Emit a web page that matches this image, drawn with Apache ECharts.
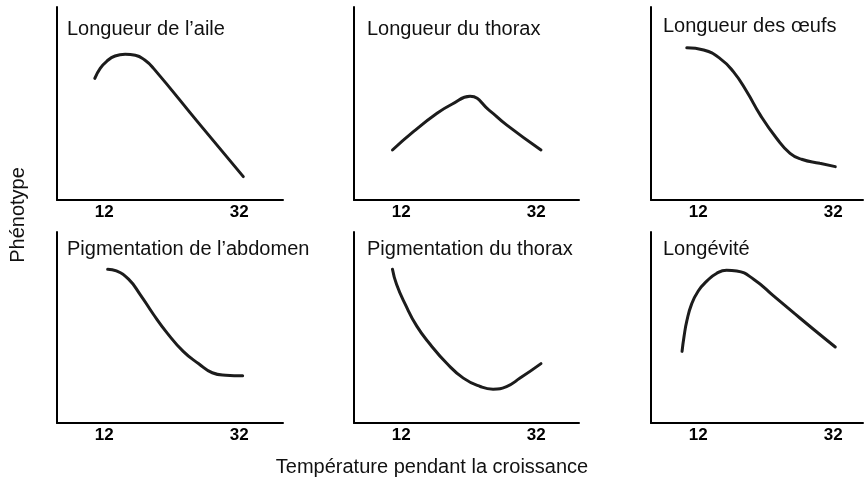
<!DOCTYPE html>
<html>
<head>
<meta charset="utf-8">
<script src="https://cdn.jsdelivr.net/npm/echarts@6/dist/echarts.min.js"></script>
<style>
  html, body { margin: 0; padding: 0; background: #fff; }
  #chart { width: 864px; height: 490px; }
</style>
</head>
<body>
<div id="chart"></div>
<script>
// panel titles (reading order)
var panelTitles = [
  'Longueur de l\u2019aile', 'Longueur du thorax', 'Longueur des \u0153ufs',
  'Pigmentation de l\u2019abdomen', 'Pigmentation du thorax', 'Long\u00e9vit\u00e9'
];
var tickValues = [12, 32];
var xTitle = 'Temp\u00e9rature pendant la croissance';
var yTitle = 'Ph\u00e9notype';

// curves: [temperature, phenotype (0-100 relative)]
var aile = [[10.6, 63.0], [11.4, 68.2], [12.4, 72.0], [13.6, 74.6], [15.1, 75.5], [16.6, 75.0],
  [18.0, 72.5], [19.3, 68.2], [25.9, 40.2], [32.6, 12.1]];
var thoraxLong = [[10.7, 25.9], [13.8, 35.4], [17.3, 44.9], [19.5, 49.6], [22.2, 53.7],
  [25.0, 46.6], [27.6, 38.9], [32.7, 25.9]];
var oeufs = [[10.3, 78.9], [12.8, 77.7], [15.2, 73.4], [17.2, 66.5], [19.2, 56.1], [21.2, 44.0],
  [23.6, 32.0], [25.6, 24.2], [27.3, 21.1], [30.0, 19.0], [32.3, 17.3]];
var abdomen = [[12.5, 80.5], [13.8, 79.6], [15.6, 75.3], [17.3, 67.4], [19.3, 56.8], [21.3, 47.2],
  [23.7, 37.5], [26.0, 31.0], [28.0, 26.3], [30.0, 25.0], [32.5, 24.7]];
var thoraxPigm = [[10.7, 80.5], [11.3, 72.6], [12.6, 62.1], [14.3, 50.7], [16.3, 41.1], [18.7, 31.4],
  [21.2, 23.5], [23.7, 19.1], [25.6, 17.7], [27.6, 19.1], [29.6, 23.5], [32.7, 31.1]];
var longevite = [[9.6, 37.5], [9.9, 45.4], [10.3, 53.3], [11.0, 62.1], [12.0, 69.1], [13.3, 74.4],
  [14.7, 78.3], [16.2, 80.0], [17.7, 79.6], [20.2, 75.3], [23.2, 66.4], [26.2, 57.5], [29.2, 48.7], [32.3, 39.8]];
var curves = [aile, thoraxLong, oeufs, abdomen, thoraxPigm, longevite];

var chart = echarts.init(document.getElementById('chart'));

var colLeft = [57, 354, 651];
var colWidth = [226, 225, 212];
var rowTop = [7, 232];
var rowHeight = [193, 191];
var pxPerUnit = 6.75;
var xMin = 5;
var titleTop = [[19, 19, 16], [239, 239, 239]];
var titleLeft = [67, 367, 663];
var fontFam = 'Liberation Sans, Arial, sans-serif';

var grids = [], xAxes = [], yAxes = [], series = [], titles = [];
for (var i = 0; i < 6; i++) {
  var r = Math.floor(i / 3), c = i % 3;
  grids.push({ left: colLeft[c], top: rowTop[r], width: colWidth[c], height: rowHeight[r] });
  xAxes.push({
    gridIndex: i,
    type: 'value',
    min: xMin,
    max: xMin + colWidth[c] / pxPerUnit,
    axisLine: { show: true, onZero: false, lineStyle: { color: '#000', width: 2 } },
    axisTick: { show: false },
    splitLine: { show: false },
    axisLabel: {
      customValues: tickValues,
      color: '#000',
      fontWeight: 'bold',
      fontSize: 17,
      fontFamily: fontFam,
      margin: 4
    }
  });
  yAxes.push({
    gridIndex: i,
    type: 'value',
    min: 0,
    max: 100,
    axisLine: { show: true, onZero: false, lineStyle: { color: '#000', width: 2 } },
    axisTick: { show: false },
    splitLine: { show: false },
    axisLabel: { show: false }
  });
  series.push({
    type: 'line',
    xAxisIndex: i,
    yAxisIndex: i,
    data: curves[i],
    smooth: true,
    showSymbol: false,
    silent: true,
    lineStyle: { color: '#1c1c1c', width: 3, cap: 'round' }
  });
  titles.push({
    text: panelTitles[i],
    left: titleLeft[c],
    top: titleTop[r][c],
    padding: 0,
    textStyle: { color: '#111', fontSize: 20, fontWeight: 'normal', fontFamily: fontFam }
  });
}

var option = {
  backgroundColor: '#fff',
  animation: false,
  title: titles,
  grid: grids,
  xAxis: xAxes,
  yAxis: yAxes,
  series: series,
  graphic: [
    {
      type: 'text',
      x: 18, y: 215,
      rotation: Math.PI / 2,
      style: { text: yTitle, fontSize: 20, fontFamily: fontFam, fill: '#111', align: 'center', verticalAlign: 'middle' }
    },
    {
      type: 'text',
      x: 432, y: 467,
      style: { text: xTitle, fontSize: 20, fontFamily: fontFam, fill: '#111', align: 'center', verticalAlign: 'middle' }
    }
  ]
};
chart.setOption(option);
</script>
</body>
</html>
